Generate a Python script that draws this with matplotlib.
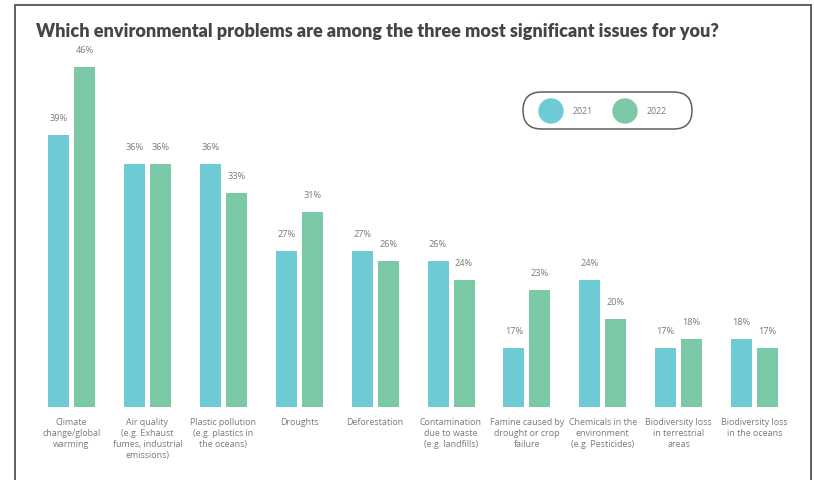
import matplotlib
matplotlib.use('Agg')
import matplotlib.pyplot as plt
from matplotlib.patches import FancyBboxPatch, Circle
import numpy as np

categories = [
    'Climate\nchange/global\nwarming',
    'Air quality\n(e.g. Exhaust\nfumes, industrial\nemissions)',
    'Plastic pollution\n(e.g. plastics in\nthe oceans)',
    'Droughts',
    'Deforestation',
    'Contamination\ndue to waste\n(e.g. landfills)',
    'Famine caused by\ndrought or crop\nfailure',
    'Chemicals in the\nenvironment\n(e.g. Pesticides)',
    'Biodiversity loss\nin terrestrial\nareas',
    'Biodiversity loss\nin the oceans',
]
values_2021 = [39, 36, 36, 27, 27, 26, 17, 24, 17, 18]
values_2022 = [46, 36, 33, 31, 26, 24, 23, 20, 18, 17]
years = ['2021', '2022']

blue = '#6ECAD4'
green = '#7CC9A8'
label_grey = '#7a7a7a'
frame_grey = '#5f5f5f'

W, H = 814, 480
fig = plt.figure(figsize=(W / 100, H / 100), dpi=100)

# axes spans the full width; the baseline sits at y=406.5 px
base_px = 406.5
top_px = 40
px_per_pct = 9.71
ax = fig.add_axes([0, 1 - base_px / H, 1, (base_px - top_px) / H])
ymin = 11
ax.set_ylim(ymin, ymin + (base_px - top_px) / px_per_pct)

group_px = 75.9
first_center = 71.5
ax.set_xlim(-first_center / group_px, (W - first_center) / group_px)

x = np.arange(len(categories))
bw = 21 / group_px
off = 13 / group_px
b1 = ax.bar(x - off, values_2021, bw, color=blue)
b2 = ax.bar(x + off, values_2022, bw, color=green)

for bars, vals in ((b1, values_2021), (b2, values_2022)):
    for rect, v in zip(bars, vals):
        ax.annotate(f'{v}%', (rect.get_x() + rect.get_width() / 2, v),
                    xytext=(0, 8.5), textcoords='offset points',
                    ha='center', va='bottom', fontsize=6.6,
                    color=label_grey, family='Open Sans')

for xi, cat in zip(x, categories):
    ax.annotate(cat, (xi, ymin), xytext=(0, -8.5), textcoords='offset points',
                ha='center', va='top', fontsize=6.4, color=label_grey,
                family='Open Sans', linespacing=1.25)

ax.axis('off')

# title
fig.text(36 / W, 1 - 31 / H,
         'Which environmental problems are among the three most significant issues for you?',
         fontsize=13.0, fontweight='heavy', color='#454545', family='Lato',
         ha='left', va='center')

# outer frame, open at the bottom
lw = 1.4
fig.add_artist(plt.Line2D([14.5 / W, 14.5 / W], [-0.1, 1 - 5 / H], color=frame_grey, lw=lw))
fig.add_artist(plt.Line2D([811 / W, 811 / W], [-0.1, 1 - 5 / H], color=frame_grey, lw=lw))
fig.add_artist(plt.Line2D([14.5 / W, 811 / W], [1 - 5 / H, 1 - 5 / H], color=frame_grey, lw=lw))

# legend pill drawn in pixel coordinates
leg_ax = fig.add_axes([0, 0, 1, 1], zorder=5)
leg_ax.set_xlim(0, W)
leg_ax.set_ylim(H, 0)
leg_ax.axis('off')
leg_ax.add_patch(FancyBboxPatch((523, 92), 169, 37,
                                boxstyle='round,pad=0,rounding_size=18.5',
                                fc='white', ec=frame_grey, lw=1.1))
for cx, col, yr in ((551, blue, years[0]), (625, green, years[1])):
    leg_ax.add_patch(Circle((cx, 111), 12, color=col))
    leg_ax.text(cx + 22, 111.5, yr, ha='left', va='center', fontsize=6.4,
                color=label_grey, family='Open Sans')

fig.savefig('out.png', dpi=100)
